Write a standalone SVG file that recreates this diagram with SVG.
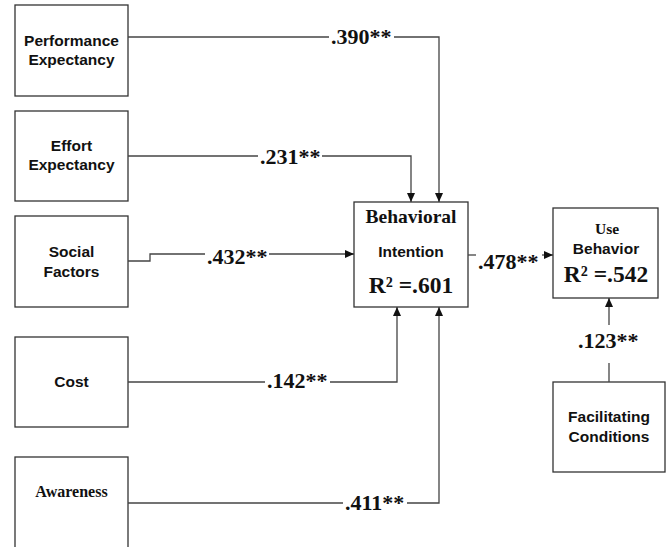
<svg xmlns="http://www.w3.org/2000/svg" width="669" height="547" viewBox="0 0 669 547">
<style>
.box{fill:#fff;stroke:#333;stroke-width:1.3}
.ln{fill:none;stroke:#444;stroke-width:1.3}
.sans{font-family:"Liberation Sans",Arial,sans-serif;font-weight:bold;fill:#111;text-anchor:middle}
.serif{font-family:"Liberation Serif","Times New Roman",serif;font-weight:bold;fill:#111;text-anchor:middle}
.lab{font-family:"Liberation Serif","Times New Roman",serif;font-weight:bold;font-size:22px;fill:#111}
</style>
<defs>
<marker id="ah" markerWidth="9" markerHeight="8" refX="9" refY="4" orient="auto" markerUnits="userSpaceOnUse">
<path d="M0,0 L9,4 L0,8 Z" fill="#111"/>
</marker>
</defs>
<rect width="669" height="547" fill="#fff"/>
<g id="performance"><rect class="box" x="15" y="5" width="113" height="91"/>
<text class="sans" font-size="15.5" x="71.5" y="46">Performance</text>
<text class="sans" font-size="15.5" x="71.5" y="65">Expectancy</text></g>
<g id="effort"><rect class="box" x="15" y="111" width="113" height="90"/>
<text class="sans" font-size="15.5" x="71.5" y="151">Effort</text>
<text class="sans" font-size="15.5" x="71.5" y="170">Expectancy</text></g>
<g id="social"><rect class="box" x="15" y="216" width="113" height="91"/>
<text class="sans" font-size="15.5" x="71.5" y="257">Social</text>
<text class="sans" font-size="15.5" x="71.5" y="277">Factors</text></g>
<g id="cost"><rect class="box" x="15" y="337" width="113" height="90"/>
<text class="sans" font-size="15.5" x="71.5" y="387">Cost</text></g>
<g id="awareness"><rect class="box" x="15" y="457" width="113" height="100"/>
<text class="serif" font-size="16" x="71.5" y="497">Awareness</text></g>
<g id="intention"><rect class="box" x="354" y="202" width="114" height="105"/>
<text class="serif" font-size="19.5" x="411" y="223">Behavioral</text>
<text class="sans" font-size="15.5" x="411" y="257">Intention</text>
<text class="serif" font-size="23.5" x="411" y="293">R² =.601</text></g>
<g id="use"><rect class="box" x="553" y="208" width="105" height="90"/>
<text class="serif" font-size="15.5" x="607" y="234">Use</text>
<text class="sans" font-size="15.5" x="606" y="254">Behavior</text>
<text class="serif" font-size="23.5" x="606" y="282">R² =.542</text></g>
<g id="facilitating"><rect class="box" x="553" y="382" width="112" height="90"/>
<text class="sans" font-size="15.5" x="609" y="422">Facilitating</text>
<text class="sans" font-size="15.5" x="609" y="442">Conditions</text></g>
<g id="connectors">
<path class="ln" d="M128,37 H329"/>
<path class="ln" d="M394,37 H439 V202" marker-end="url(#ah)"/>
<text class="lab" x="331" y="44">.390**</text>
<path class="ln" d="M128,156 H258"/>
<path class="ln" d="M322,156 H411 V202" marker-end="url(#ah)"/>
<text class="lab" x="260" y="164">.231**</text>
<path class="ln" d="M128,261 H150 V254 H205"/>
<path class="ln" d="M269,254 H354" marker-end="url(#ah)"/>
<text class="lab" x="207" y="264">.432**</text>
<path class="ln" d="M128,382 H265"/>
<path class="ln" d="M330,382 H397 V307" marker-end="url(#ah)"/>
<text class="lab" x="267" y="388">.142**</text>
<path class="ln" d="M128,503 H343"/>
<path class="ln" d="M407,503 H439 V307" marker-end="url(#ah)"/>
<text class="lab" x="345" y="510">.411**</text>
<path class="ln" d="M468,255 H476"/>
<path class="ln" d="M542,255 H553" marker-end="url(#ah)"/>
<text class="lab" x="478" y="269">.478**</text>
<path class="ln" d="M609,382 V363"/>
<path class="ln" d="M609,325 V298" marker-end="url(#ah)"/>
<text class="lab" x="578" y="348">.123**</text>
</g>
</svg>
